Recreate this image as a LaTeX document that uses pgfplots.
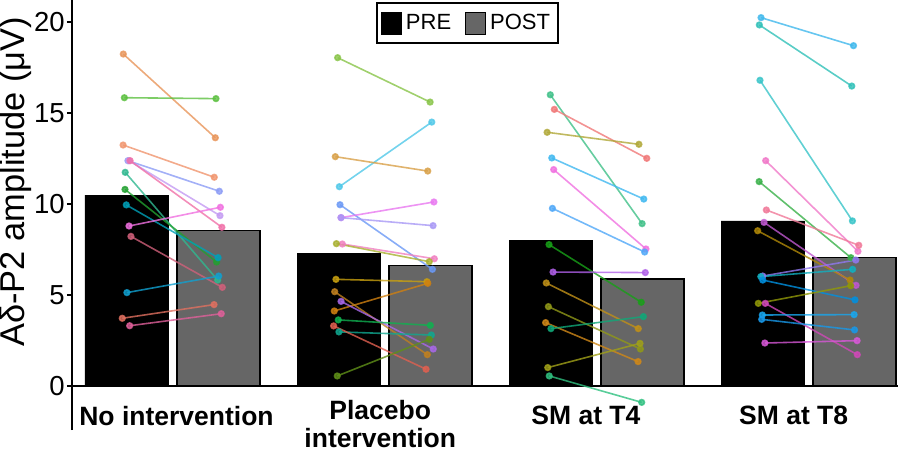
\documentclass[border=0pt]{standalone}
\usepackage{fontspec}
\setmainfont{Liberation Sans}
\usepackage{pgfplots}
\pgfplotsset{compat=1.18}
\definecolor{postgray}{HTML}{666666}
\newcommand{\pp}[6]{\definecolor{c#1}{HTML}{#2}%
\addplot[color=c#1, line width=0.8bp, opacity=0.8, mark=*, mark size=1.4bp, mark options={solid, fill=c#1}, forget plot] coordinates {(#3,#4) (#5,#6)};}
\begin{document}
\begin{tikzpicture}
\begin{axis}[
  scale only axis, width=413bp, height=215bp,
  xmin=-0.474, xmax=3.422, ymin=-2.42, ymax=21.21,
  axis lines*=left,
  axis line style={line width=1.4bp, black},
  x axis line style={draw=none},
  xtick={0.019,0.98,1.95,2.93},
  xticklabels={No intervention,{\raisebox{3bp}[\height][\depth]{\begin{tabular}{@{}c@{}}Placebo\\intervention\end{tabular}}},SM at T4,SM at T8},
  xtick style={draw=none},
  xticklabel style={align=center, anchor=north, yshift=18bp, font=\fontsize{13.25bp}{14bp}\selectfont\bfseries},
  ytick={0,5,10,15,20},
  tick align=outside,
  ytick style={line width=1.2bp, black},
  major tick length=2.5bp,
  yticklabel style={font=\fontsize{13.75bp}{16bp}\selectfont, inner sep=1bp},
  /pgf/number format/assume math mode=true,
  ylabel={Aδ-P2 amplitude (μV)},
  every axis y label/.style={at={(rel axis cs:0,0.577)}, xshift=-28bp, rotate=90, anchor=center, font=\fontsize{17.2bp}{19bp}\selectfont},
  legend style={at={(rel axis cs:0.368,0.995)}, anchor=north west, draw=black, line width=1bp,
    font=\fontsize{11bp}{13bp}\selectfont, inner xsep=2bp, inner ysep=3.5bp,
    /tikz/every even column/.append style={column sep=5bp}},
  legend columns=2, legend cell align=left,
  legend image code/.code={\draw[#1, line width=0.5bp] (0bp,-5.5bp) rectangle (10bp,5.5bp);},
]
\addplot[ybar, bar width=0.3915, bar shift=0pt, fill=black, draw=black] coordinates {(-0.217,10.49) (0.783,7.30) (1.783,8.02) (2.783,9.07)};
\addlegendentry{PRE}
\addplot[ybar, bar width=0.3915, bar shift=0pt, fill=postgray, draw=black, line width=0.6bp] coordinates {(0.217,8.53) (1.217,6.60) (2.217,5.88) (3.217,7.08)};
\addlegendentry{POST}
\addplot[black, line width=1.4bp, forget plot] coordinates {(-0.474,0) (3.422,0)};
% group 1
\pp{a1}{E8955A}{-0.232}{18.24}{0.202}{13.64}
\pp{a2}{5CC040}{-0.227}{15.84}{0.205}{15.79}
\pp{a3}{F0956E}{-0.233}{13.24}{0.197}{11.47}
\pp{a4}{8C9CF5}{-0.210}{12.38}{0.221}{10.70}
\pp{a5}{C39AF2}{-0.205}{12.38}{0.224}{9.36}
\pp{a6}{F070A8}{-0.200}{12.38}{0.233}{8.72}
\pp{a7}{30B890}{-0.223}{11.74}{0.213}{5.82}
\pp{a8}{22A030}{-0.224}{10.80}{0.208}{6.81}
\pp{a9}{00A0B8}{-0.218}{9.95}{0.215}{7.05}
\pp{a10}{F070E0}{-0.205}{8.79}{0.226}{9.82}
\pp{a11}{D0607A}{-0.196}{8.22}{0.235}{5.42}
\pp{a12}{10A0D0}{-0.215}{5.13}{0.218}{6.04}
\pp{a13}{E07060}{-0.237}{3.72}{0.196}{4.47}
\pp{a14}{E0609A}{-0.202}{3.31}{0.230}{3.97}
% group 2
\pp{b1}{88C448}{0.779}{18.04}{1.215}{15.60}
\pp{b2}{50C8E8}{0.787}{10.95}{1.223}{14.50}
\pp{b3}{D8A048}{0.768}{12.60}{1.204}{11.81}
\pp{b4}{6A98F5}{0.790}{9.96}{1.226}{6.41}
\pp{b5}{E878F0}{0.795}{9.25}{1.233}{10.11}
\pp{b6}{A898F5}{0.795}{9.25}{1.229}{8.81}
\pp{b7}{F080C0}{0.801}{7.80}{1.235}{6.99}
\pp{b8}{A8B030}{0.773}{7.82}{1.211}{6.83}
\pp{b9}{C8A010}{0.771}{5.86}{1.200}{5.73}
\pp{b10}{D08010}{0.763}{4.12}{1.204}{5.64}
\pp{b11}{C08020}{0.765}{5.18}{1.202}{1.72}
\pp{b12}{A868E8}{0.795}{4.65}{1.230}{2.03}
\pp{b13}{10B050}{0.782}{3.63}{1.216}{3.33}
\pp{b14}{10A890}{0.785}{2.97}{1.221}{2.80}
\pp{b15}{E06050}{0.760}{3.30}{1.196}{0.92}
\pp{b16}{609018}{0.777}{0.55}{1.211}{2.56}
% group 3
\pp{c1}{40C088}{1.782}{16.00}{2.215}{8.92}
\pp{c2}{F07878}{1.801}{15.20}{2.237}{12.51}
\pp{c3}{B0A838}{1.767}{13.94}{2.200}{13.28}
\pp{c4}{40B8F0}{1.789}{12.53}{2.223}{10.27}
\pp{c5}{F070E0}{1.798}{11.89}{2.233}{7.53}
\pp{c6}{50A8F8}{1.792}{9.76}{2.227}{7.36}
\pp{c7}{18A018}{1.776}{7.77}{2.211}{4.60}
\pp{c8}{B060E8}{1.795}{6.26}{2.230}{6.23}
\pp{c9}{C09018}{1.763}{5.66}{2.197}{3.15}
\pp{c10}{909818}{1.773}{4.36}{2.207}{2.03}
\pp{c11}{D08818}{1.760}{3.48}{2.196}{1.34}
\pp{c12}{10A878}{1.785}{3.15}{2.221}{3.81}
\pp{c13}{A0A018}{1.770}{1.01}{2.205}{2.34}
\pp{c14}{30C080}{1.777}{0.55}{2.213}{-0.90}
% group 4
\pp{d1}{40B8EC}{2.776}{20.24}{3.212}{18.70}
\pp{d2}{30C0B8}{2.768}{19.84}{3.204}{16.48}
\pp{d3}{38C4C8}{2.771}{16.80}{3.207}{9.07}
\pp{d4}{F078C8}{2.798}{12.38}{3.233}{7.40}
\pp{d5}{38B048}{2.767}{11.23}{3.200}{7.05}
\pp{d6}{F07898}{2.801}{9.67}{3.237}{7.73}
\pp{d7}{C058D0}{2.790}{8.99}{3.224}{5.53}
\pp{d8}{B08808}{2.760}{8.53}{3.196}{5.82}
\pp{d9}{9078F0}{2.784}{6.04}{3.223}{6.92}
\pp{d10}{10B0C0}{2.775}{6.01}{3.208}{6.41}
\pp{d11}{0090E0}{2.784}{5.82}{3.219}{4.73}
\pp{d12}{909808}{2.763}{4.54}{3.199}{5.51}
\pp{d13}{D048B8}{2.796}{4.54}{3.230}{1.72}
\pp{d14}{18A8F0}{2.782}{3.90}{3.215}{3.92}
\pp{d15}{1898E8}{2.779}{3.66}{3.217}{3.08}
\pp{d16}{D858D8}{2.794}{2.36}{3.229}{2.49}
\end{axis}
\pgfresetboundingbox
\path ([xshift=-36bp, yshift=-11.5bp]current axis.south west) rectangle (current axis.north east);
\end{tikzpicture}
\end{document}
